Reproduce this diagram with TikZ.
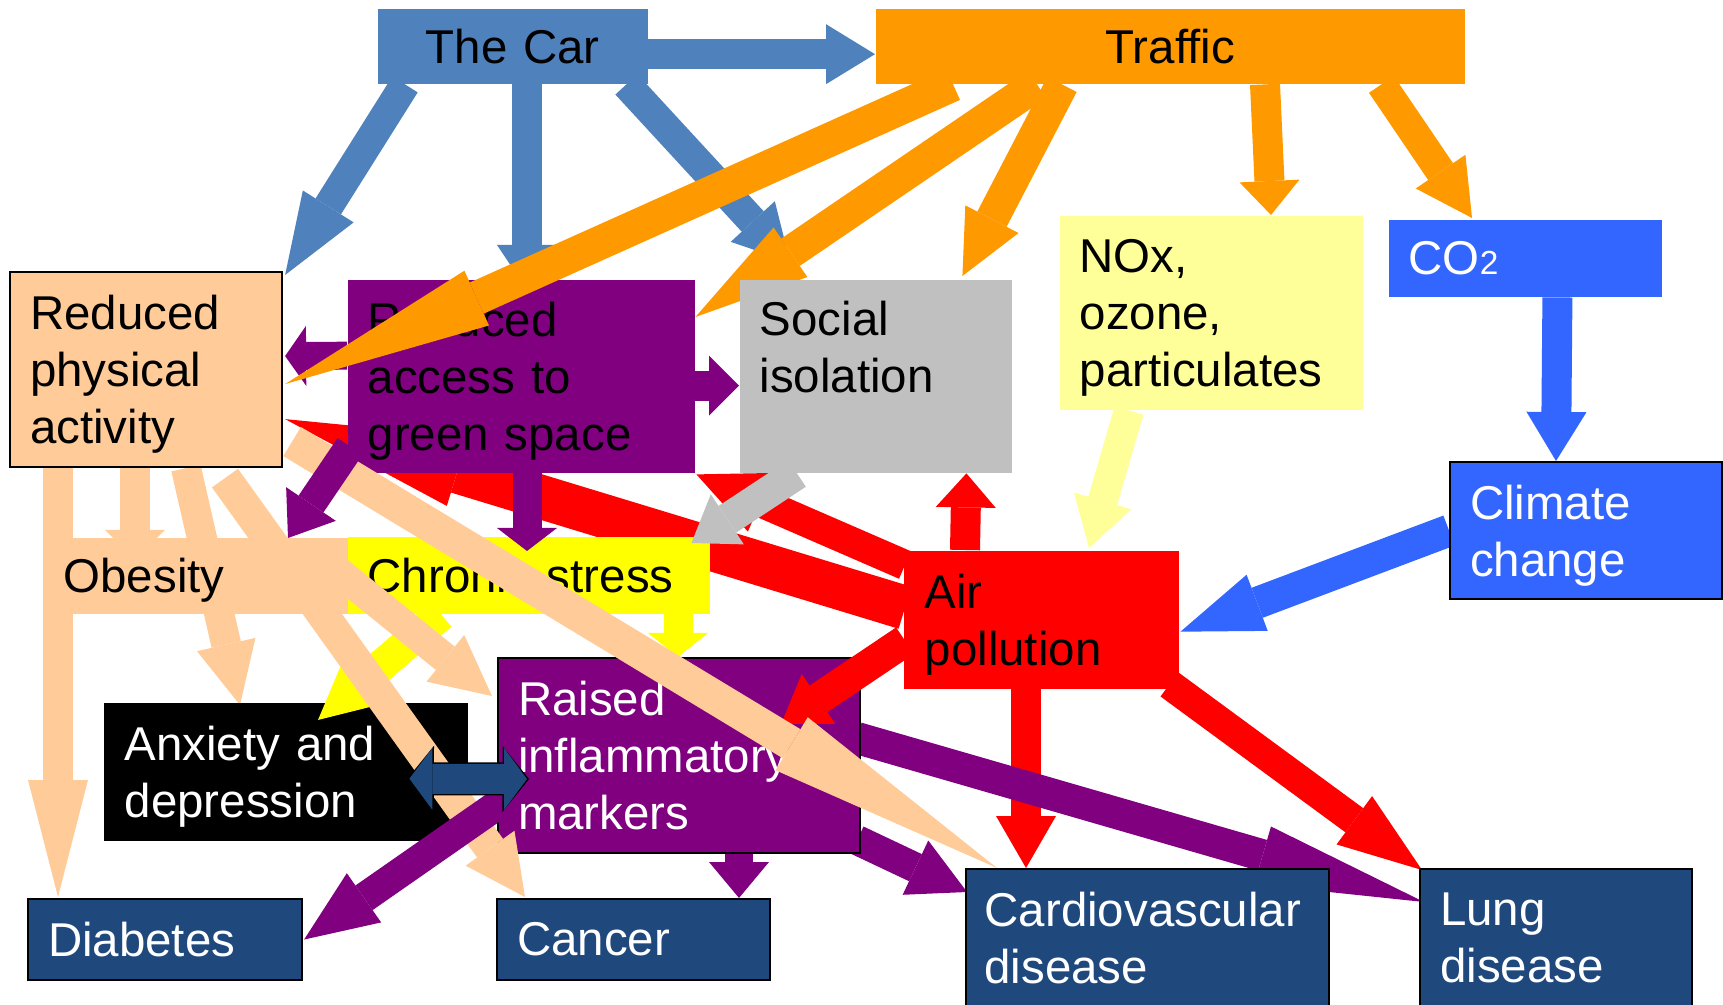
\documentclass[tikz,border=0pt]{standalone}
\usepackage{fontspec}
\setmainfont{Liberation Sans}
\usepackage{tikz}
\usetikzlibrary{arrows.meta}
\usetikzlibrary{calc}
\usepackage{xcolor}
\definecolor{carblue}{HTML}{4F81BD}
\definecolor{trafficorange}{HTML}{FF9900}
\definecolor{peach}{HTML}{FFCC99}
\definecolor{purp}{HTML}{800080}
\definecolor{isogray}{HTML}{C0C0C0}
\definecolor{paleyellow}{HTML}{FFFF99}
\definecolor{stressyellow}{HTML}{FFFF00}
\definecolor{co2blue}{HTML}{3366FF}
\definecolor{airred}{HTML}{FF0000}
\definecolor{diseaseblue}{HTML}{1F497D}
\pgfdeclarelayer{back}
\pgfdeclarelayer{front}
\pgfsetlayers{back,main,front}
\tikzset{
  % Block arrows: a thick shaft with a wide triangular head
  fat/.style={line width=3mm, -{Triangle[length=#1, width=6mm, line width=0pt]}},
  fat/.default=5mm,
  box/.style={rectangle, anchor=north west, inner sep=0pt, align=left, text width=#1},
  dblrim/.style={line width=3.3mm, black, shorten <=-0.2mm, shorten >=-0.2mm,
    {Triangle[length=2.65mm, width=6.6mm, line width=0pt]}-{Triangle[length=2.65mm, width=6.6mm, line width=0pt]}},
  dblfill/.style={line width=3mm, diseaseblue,
    {Triangle[length=2.3mm, width=6.2mm, line width=0pt]}-{Triangle[length=2.3mm, width=6.2mm, line width=0pt]}}
}

\begin{document}
\begin{tikzpicture}[x=0.1mm, y=-0.1mm, font=\fontsize{13.5}{16.2}\selectfont]
    % Define styles
    \tikzstyle{edged} = [draw=black, line width=0.6pt]
    \useasboundingbox (0,0) rectangle (1723,1005);

    % Place nodes
    \node [box=23mm, align=center, fill=carblue, minimum width=27mm, minimum height=7.5mm] (car) at (377,8) {The Car};
    \node [box=55mm, align=center, fill=trafficorange, minimum width=58.9mm, minimum height=7.5mm] (traffic) at (875,8) {Traffic};
    \node [box=23.2mm, fill=peach, edged, minimum width=27.2mm, minimum height=19.5mm, text depth=32.4pt] (rpa) at (9,271) {Reduced\\physical\\activity};
    \node [box=30.7mm, fill=purp, minimum width=34.7mm, minimum height=19.3mm, text depth=32.4pt] (green) at (347,279) {Reduced\\access to\\green space};
    \node [box=23.2mm, fill=isogray, minimum width=27.2mm, minimum height=19.3mm, text height=3.5mm, text depth=11.6mm] (social) at (739,279) {Social\\isolation};
    \node [box=26.3mm, fill=paleyellow, minimum width=30.3mm, minimum height=19.4mm, text depth=32.4pt] (nox) at (1059,215) {NOx,\\ozone,\\particulates};
    \node [box=23.3mm, fill=co2blue, text=white, minimum width=27.3mm, minimum height=7.7mm] (co2) at (1388,219) {CO{\fontsize{9.5}{10}\selectfont 2}};
    \node [box=23.2mm, fill=co2blue, text=white, edged, minimum width=27.2mm, minimum height=13.7mm, text depth=16.2pt] (climate) at (1449,461) {Climate\\change};
    \node [box=26.4mm, fill=peach, minimum width=30.4mm, minimum height=7.6mm, text depth=0pt] (obesity) at (43,537) {Obesity};
    \node [box=32.2mm, fill=stressyellow, minimum width=36.2mm, minimum height=7.7mm] (stress) at (347,536) {Chronic stress};
    \node [box=23.3mm, fill=airred, minimum width=27.5mm, minimum height=13.8mm, text depth=16.2pt] (air) at (903,550) {Air\\pollution};
    \node [box=32.2mm, fill=black, text=white, minimum width=36.4mm, minimum height=13.8mm, text depth=16.2pt] (anxiety) at (103,702) {Anxiety and\\depression};
    \node [box=32.2mm, fill=purp, text=white, edged, minimum width=36.2mm, minimum height=19.5mm] (markers) at (497,657) {Raised\\inflammatory\\markers};
    \node [box=23.4mm, fill=diseaseblue, text=white, edged, minimum width=27.4mm, minimum height=8.1mm] (diabetes) at (27,898) {Diabetes};
    \node [box=23.3mm, fill=diseaseblue, text=white, edged, minimum width=27.3mm, minimum height=8.1mm] (cancer) at (496,898) {Cancer};
    \node [box=32.6mm, fill=diseaseblue, text=white, edged, minimum width=36.3mm, minimum height=13.8mm] (cvd) at (965,868) {Cardiovascular\\disease};
    \node [box=23.2mm, fill=diseaseblue, text=white, edged, minimum width=27.2mm, minimum height=13.8mm] (lung) at (1419,868) {Lung\\disease};

    % Draw edges behind the boxes
    \begin{pgfonlayer}{back}
    \draw [fat=4.9mm, carblue] ($(car.east)+(0,8)$) -- ($(traffic.west)+(0,8)$);
    \draw [fat=8.1mm, carblue] ($(car.south west)+(28,0)$) -- ($(rpa.north east)+(2,4)$);
    \draw [fat=4.5mm, carblue] ($(car.south west)+(150,0)$) -- ($(green.north west)+(180,11)$);
    \draw [fat=5.5mm, carblue] ($(car.south east)+(-22,0)$) -- ($(social.north west)+(51,-17)$);
    \draw [fat=11.5mm, line width=3.3mm, trafficorange] ($(traffic.south west)+(162,0)$) -- ($(green.north east)+(0,38)$);
    \draw [fat=6.4mm, line width=3.3mm, trafficorange] ($(traffic.south west)+(187,0)$) -- ($(social.north east)+(-50,-3)$);
    \draw [fat=3.4mm, trafficorange] ($(traffic.south west)+(390,0)$) -- ($(nox.north west)+(212,0)$);
    \draw [fat=5.6mm, trafficorange] ($(traffic.south east)+(-84,0)$) -- ($(co2.north west)+(84,-1)$);
    \draw [fat=4.9mm, co2blue] ($(co2.south east)+(-105,0)$) -- ($(climate.north west)+(107,0)$);
    \draw [fat=8.2mm, line width=3.2mm, co2blue] (climate.west) -- ($(air.east)+(1,12)$);
    \draw [fat=4.9mm, paleyellow] ($(nox.south west)+(70,0)$) -- ($(air.north west)+(186,-2)$);
    \draw [fat=3.4mm, airred] ($(air.north west)+(62,0)$) -- ($(social.south east)+(-46,0)$);
    \draw [airred, line width=3mm, -{Triangle[length=7mm, width=6.4mm, line width=0pt]}] ($(air.north west)+(2,15)$) -- ($(green.south east)+(1,1)$);
    \draw [airred, line width=4.4mm, -{Triangle[length=18mm, width=7.2mm, line width=0pt]}] ($(air.west)+(2,-12)$) -- ($(rpa.south east)+(2,-49)$);
    \draw [fat=5.2mm, airred] ($(air.south west)+(123,0)$) -- ($(cvd.north west)+(61,0)$);
    \draw [fat=8.4mm, airred] ($(air.south east)+(-10,-5)$) -- ($(lung.north west)+(3,2)$);
    \draw [fat=2.1mm, line width=2.8mm, purp] ($(green.west)+(0,-20.5)$) -- ($(rpa.east)+(2,-13.5)$);
    \draw [fat=3mm, purp] ($(green.east)+(0,9.5)$) -- ($(social.west)+(0,9.5)$);
    \draw [fat=3.6mm, line width=2.8mm, purp] ($(markers.south west)+(242,0)$) -- ($(cancer.north west)+(243,0)$);
    \draw [fat=5.7mm, purp] ($(markers.south east)+(-4,-14)$) -- ($(cvd.north west)+(2,24)$);
    \draw [fat=16.8mm, line width=3.2mm, purp] ($(markers.east)+(-4,-17.5)$) -- ($(lung.north west)+(5,34)$);
    \draw [fat=11.7mm, peach] ($(rpa.south west)+(49,0)$) -- ($(diabetes.north west)+(31,-1)$);
    \draw [fat=3mm, peach] ($(rpa.south west)+(126,0)$) -- ($(obesity.north west)+(92,23)$);
    \draw [fat=6.2mm, peach] ($(rpa.south west)+(177,0)$) -- ($(anxiety.north west)+(137,3)$);
    \end{pgfonlayer}

    % Draw edges over the boxes
    \begin{pgfonlayer}{front}
    \draw [fat=21mm, line width=3.4mm, trafficorange] ($(traffic.south west)+(78,0)$) -- ($(rpa.east)+(2,14.5)$);
    \draw [fat=4.5mm, line width=3.2mm, airred] ($(air.west)+(2,21)$) -- ($(markers.north east)+(-80,67)$);
    \draw [fat=2.3mm, line width=2.9mm, purp] ($(green.south west)+(180,0)$) -- ($(stress.north west)+(180,15)$);
    \draw [fat=4.3mm, line width=3.2mm, isogray] ($(social.south west)+(58,0)$) -- ($(stress.north east)+(-19,7)$);
    \draw [fat=6mm, line width=3.2mm, stressyellow] ($(stress.south west)+(94,0)$) -- ($(anxiety.north west)+(215,18)$);
    \draw [fat=2.4mm, line width=2.9mm, stressyellow] ($(stress.south west)+(331,0)$) -- ($(markers.north west)+(181,0)$);
    \draw [fat=6mm, line width=3.2mm, peach] ($(rpa.south west)+(216,10)$) -- ($(cancer.north west)+(29,-1)$);
    \draw [fat=6mm, peach] ($(obesity.north east)+(-37,13)$) -- ($(markers.west)+(-5,-59.5)$);
    \draw [peach, line width=3.4mm, -{Triangle[length=24mm, width=6.2mm, line width=0pt]}] ($(rpa.east)+(9,72)$) -- ($(cvd.north west)+(32,0)$);
    \draw [fat=4.1mm, purp] ($(green.south west)+(3,-27)$) -- ($(obesity.north west)+(245,1)$);
    \draw [fat=7.3mm, purp] ($(markers.west)+(13,40.5)$) -- ($(diabetes.east)+(1,0)$);
    \draw [dblrim] ($(anxiety.east)+(-59,7)$) -- ($(markers.west)+(30,23.5)$);
    \draw [dblfill] ($(anxiety.east)+(-59,7)$) -- ($(markers.west)+(30,23.5)$);
    \end{pgfonlayer}

\end{tikzpicture}
\end{document}
